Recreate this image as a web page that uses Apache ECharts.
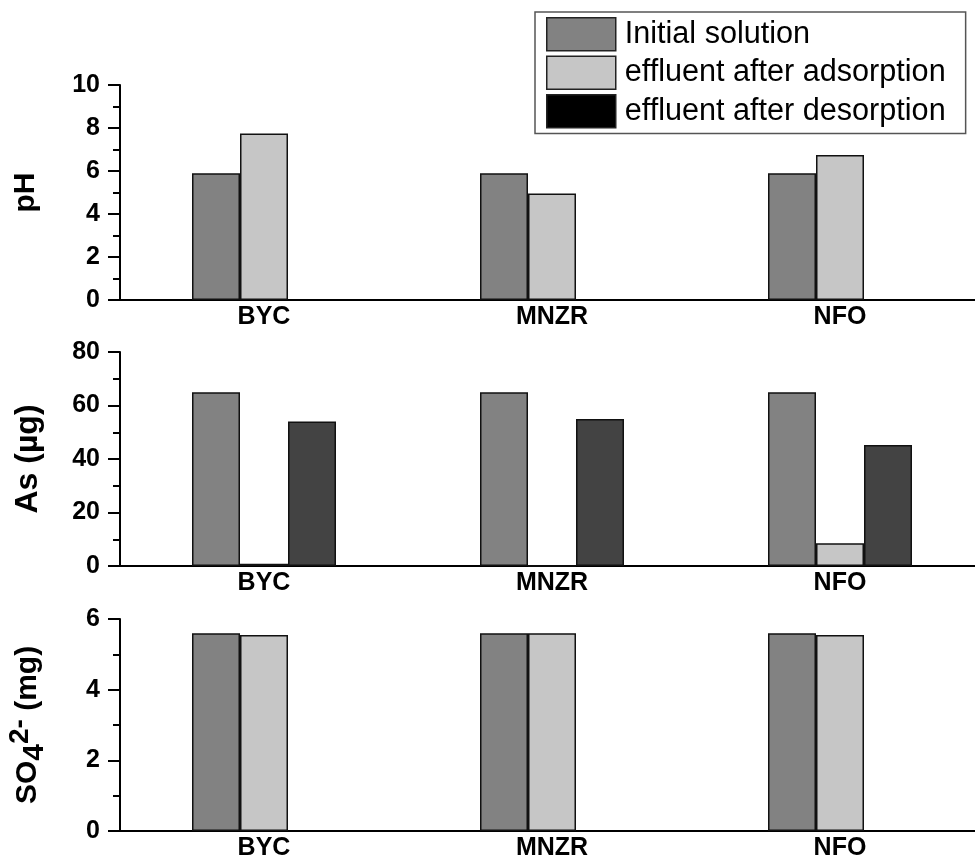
<!DOCTYPE html>
<html>
<head>
<meta charset="utf-8">
<script src="https://cdn.jsdelivr.net/npm/echarts@6/dist/echarts.min.js"></script>
<style>
  html, body { margin: 0; padding: 0; background: #fff; }
  #chart { width: 975px; height: 868px; }
</style>
</head>
<body>
<div id="chart"></div>
<script>
// categories and values
const categories = ['BYC', 'MNZR', 'NFO']
const seriesNames = ['Initial solution', 'effluent after adsorption', 'effluent after desorption']

const phInitial = [5.9, 5.9, 5.9]
const phAdsorption = [7.75, 4.95, 6.75]
const phDesorption = ['-', '-', '-']

const asInitial = [65, 65, 65]
const asAdsorption = [0.8, 0, 8.5]
const asDesorption = [54, 55, 45.2]

const so4Initial = [5.6, 5.6, 5.6]
const so4Adsorption = [5.55, 5.6, 5.55]
const so4Desorption = ['-', '-', '-']

const FONT = 'Arial, "Liberation Sans", sans-serif'
const colors = ['#828282', '#c6c6c6', '#434343']

const chart = echarts.init(document.getElementById('chart'), null, { renderer: 'canvas' })

const grids = [
  { left: 120, right: -9, top: 85, height: 215, outerBoundsMode: 'none', containLabel: false },
  { left: 120, right: -9, top: 352, height: 214, outerBoundsMode: 'none', containLabel: false },
  { left: 120, right: -9, top: 619, height: 212, outerBoundsMode: 'none', containLabel: false }
]

function xAxisFor(i) {
  return {
    type: 'category',
    gridIndex: i,
    data: categories,
    axisLine: { lineStyle: { color: '#000', width: 2 } },
    axisTick: { show: false },
    axisLabel: { color: '#000', fontFamily: FONT, fontWeight: 'bold', fontSize: 25, margin: 5 }
  }
}

function yAxisFor(i, max, interval, name, gap, size) {
  return {
    type: 'value',
    gridIndex: i,
    min: 0,
    max: max,
    interval: interval,
    name: name,
    nameLocation: 'middle',
    nameRotate: 90,
    nameGap: gap,
    nameTextStyle: {
      color: '#000', fontFamily: FONT, fontWeight: 'bold', fontSize: size,
      rich: {
        b: { fontFamily: FONT, fontWeight: 'bold', fontSize: 30, lineHeight: 44, verticalAlign: 'middle', color: '#000' },
        sub: { fontFamily: FONT, fontWeight: 'bold', fontSize: 30, lineHeight: 44, verticalAlign: 'bottom', color: '#000' },
        sup: { fontFamily: FONT, fontWeight: 'bold', fontSize: 28, lineHeight: 44, verticalAlign: 'top', color: '#000' }
      }
    },
    splitLine: { show: false },
    axisLine: { show: true, lineStyle: { color: '#000', width: 2 } },
    axisTick: { show: true, inside: false, length: 12, lineStyle: { color: '#000', width: 2 } },
    minorTick: { show: true, splitNumber: 2, length: 7, lineStyle: { color: '#000', width: 2 } },
    axisLabel: { color: '#000', fontFamily: FONT, fontWeight: 'bold', fontSize: 25, margin: 20 }
  }
}

function barSeries(i, k, data) {
  return {
    type: 'bar',
    name: seriesNames[k],
    xAxisIndex: i,
    yAxisIndex: i,
    data: data,
    barWidth: 48,
    barGap: '0%',
    itemStyle: { color: colors[k], borderColor: '#111', borderWidth: 1.5 },
    emphasis: { disabled: true }
  }
}

chart.setOption({
  backgroundColor: '#fff',
  animation: false,
  grid: grids,
  legend: {
    orient: 'vertical',
    left: 535,
    top: 12,
    padding: [5, 20, 5, 11],
    itemWidth: 69,
    itemHeight: 33,
    itemGap: 4,
    backgroundColor: '#fff',
    borderColor: '#555',
    borderWidth: 1.5,
    borderRadius: 0,
    selectedMode: false,
    icon: 'rect',
    textStyle: { color: '#000', fontFamily: FONT, fontSize: 30.6, padding: [0, 0, 0, 4] },
    itemStyle: { borderColor: '#222', borderWidth: 1.5 },
    data: [
      { name: seriesNames[0] },
      { name: seriesNames[1] },
      { name: seriesNames[2], itemStyle: { color: '#000' } }
    ]
  },
  xAxis: [xAxisFor(0), xAxisFor(1), xAxisFor(2)],
  yAxis: [
    yAxisFor(0, 10, 2, 'pH', 79, 30),
    yAxisFor(1, 80, 20, 'As (µg)', 76, 32),
    yAxisFor(2, 6, 2, '{b|SO}{sub|4}{sup|2-}{b| (mg)}', 70, 30)
  ],
  series: [
    barSeries(0, 0, phInitial),
    barSeries(0, 1, phAdsorption),
    barSeries(0, 2, phDesorption),
    barSeries(1, 0, asInitial),
    barSeries(1, 1, asAdsorption),
    barSeries(1, 2, asDesorption),
    barSeries(2, 0, so4Initial),
    barSeries(2, 1, so4Adsorption),
    barSeries(2, 2, so4Desorption)
  ]
})
</script>
</body>
</html>
